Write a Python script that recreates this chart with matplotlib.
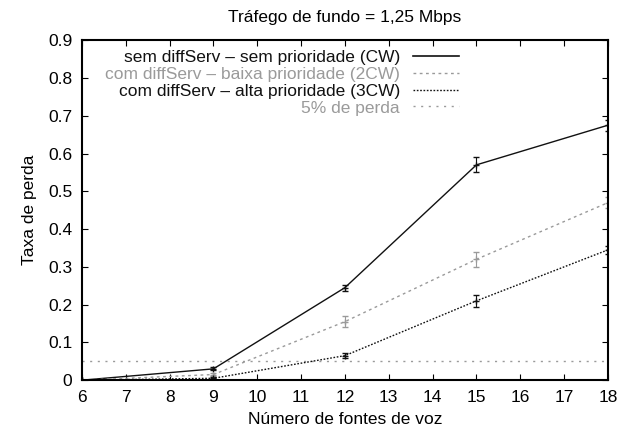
import matplotlib
matplotlib.use("Agg")
import matplotlib.pyplot as plt
from matplotlib.lines import Line2D

plt.rcParams['font.family'] = ['Liberation Sans', 'DejaVu Sans']

fontes = [6, 9, 12, 15, 18]
sem_prioridade = [0.0, 0.03, 0.245, 0.57, 0.675]
sem_prioridade_err = [0.0, 0.004, 0.008, 0.02, 0.015]
baixa_prioridade = [0.0, 0.015, 0.155, 0.32, 0.47]
baixa_prioridade_err = [0.0, 0.004, 0.015, 0.02, 0.015]
alta_prioridade = [0.0, 0.005, 0.065, 0.21, 0.345]
alta_prioridade_err = [0.0, 0.003, 0.006, 0.015, 0.01]
limite_perda = 0.05

labels = ["sem diffServ – sem prioridade (CW)",
          "com diffServ – baixa prioridade (2CW)",
          "com diffServ – alta prioridade (3CW)",
          "5% de perda"]

fig = plt.figure(figsize=(6.3, 4.37), dpi=100)
ax = fig.add_axes([0.130, 0.130, 0.835, 0.778])

c_dark = "#111111"
c_gray = "#9a9a9a"
fs = 12.5

ax.errorbar(fontes, sem_prioridade, yerr=sem_prioridade_err, color=c_dark,
            lw=1.0, ls='-', capsize=2, elinewidth=0.8, marker='+', ms=4)
ax.errorbar(fontes, baixa_prioridade, yerr=baixa_prioridade_err, color=c_gray,
            lw=1.0, ls=(0, (2, 2.5)), capsize=2, elinewidth=0.8, marker='+', ms=4)
ax.errorbar(fontes, alta_prioridade, yerr=alta_prioridade_err, color=c_dark,
            lw=1.0, ls=(0, (1.2, 1.2)), capsize=2, elinewidth=0.8, marker='+', ms=5)
ax.axhline(limite_perda, color=c_gray, lw=1.0, ls=(0, (1.5, 4)))

ax.set_xlim(6, 18)
ax.set_ylim(0, 0.9)
ax.set_xticks(range(6, 19))
ax.set_yticks([i / 10 for i in range(10)])
ax.set_yticklabels(["0"] + [f"{i/10:.1f}" for i in range(1, 10)])
ax.tick_params(direction='in', top=True, right=True, length=4, labelsize=fs,
               width=0.8)
ax.tick_params(axis='x', pad=7)
ax.tick_params(axis='y', pad=7)
for s in ax.spines.values():
    s.set_linewidth(1.5)

ax.set_xlabel("Número de fontes de voz", fontsize=fs, labelpad=5)
ax.set_ylabel("Taxa de perda", fontsize=fs, labelpad=8)
ax.set_title("Tráfego de fundo = 1,25 Mbps", fontsize=fs, pad=13)

handles = [Line2D([], [], color=c_dark, lw=1.2, ls='-'),
           Line2D([], [], color=c_gray, lw=1.0, ls=(0, (2, 2.5))),
           Line2D([], [], color=c_dark, lw=1.0, ls=(0, (1.2, 1.2))),
           Line2D([], [], color=c_gray, lw=1.0, ls=(0, (1.5, 4)))]
leg = ax.legend(handles, labels, loc='upper right', bbox_to_anchor=(0.717, 0.972),
                frameon=False, markerfirst=False, fontsize=fs,
                handlelength=2.65, handletextpad=0.75, labelspacing=0.1,
                borderaxespad=0.0, borderpad=0.0)
for t, col in zip(leg.get_texts(), [c_dark, c_gray, c_dark, c_gray]):
    t.set_color(col)
    t.set_ha('right')

fig.savefig("out.png", dpi=100)
